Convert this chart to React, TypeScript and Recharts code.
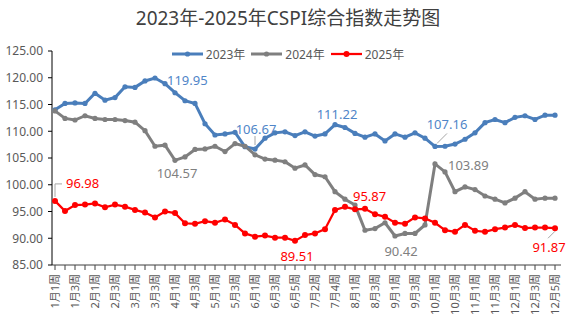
import React from 'react';
import { LineChart, Line, XAxis, YAxis, Legend, LabelList } from 'recharts';

// weeks of the year, months with 4 or 5 weeks
const categories = [
  '1月1周', '1月2周', '1月3周', '1月4周',
  '2月1周', '2月2周', '2月3周', '2月4周',
  '3月1周', '3月2周', '3月3周', '3月4周',
  '4月1周', '4月2周', '4月3周', '4月4周',
  '5月1周', '5月2周', '5月3周', '5月4周',
  '6月1周', '6月2周', '6月3周', '6月4周', '6月5周',
  '7月1周', '7月2周', '7月3周', '7月4周', '7月5周',
  '8月1周', '8月2周', '8月3周', '8月4周',
  '9月1周', '9月2周', '9月3周', '9月4周',
  '10月1周', '10月2周', '10月3周', '10月4周',
  '11月1周', '11月2周', '11月3周', '11月4周',
  '12月1周', '12月2周', '12月3周', '12月4周', '12月5周',
];

const cspi2023 = [
  114.0, 115.2, 115.3, 115.2, 117.1, 115.8, 116.3, 118.3, 118.2, 119.4,
  119.95, 118.9, 117.2, 115.7, 115.2, 111.4, 109.3, 109.5, 109.8, 107.1,
  106.67, 108.7, 109.7, 109.9, 109.2, 109.9, 109.1, 109.5, 111.22, 110.7,
  109.6, 108.9, 109.5, 108.2, 109.5, 108.9, 109.7, 108.7, 107.16, 107.2,
  107.6, 108.5, 109.7, 111.6, 112.2, 111.6, 112.6, 112.9, 112.2, 113.0,
  113.0,
];

const cspi2024 = [
  113.8, 112.4, 112.1, 112.9, 112.4, 112.2, 112.2, 112.0, 111.7, 110.1,
  107.2, 107.4, 104.57, 105.2, 106.6, 106.7, 107.2, 106.2, 107.7, 107.2,
  105.6, 104.8, 104.6, 104.3, 103.1, 103.7, 101.9, 101.5, 98.7, 97.3,
  96.2, 91.5, 91.8, 92.9, 90.42, 90.9, 90.9, 92.5, 103.89, 102.4,
  98.7, 99.6, 99.1, 97.9, 97.3, 96.6, 97.5, 98.7, 97.3, 97.5,
  97.5,
];

const cspi2025 = [
  96.98, 95.1, 96.2, 96.3, 96.5, 95.8, 96.3, 95.9, 95.3, 94.8,
  93.9, 95.0, 94.7, 92.8, 92.7, 93.2, 92.9, 93.5, 92.5, 90.9,
  90.3, 90.5, 90.1, 90.1, 89.51, 90.6, 90.9, 91.7, 95.3, 95.87,
  95.4, 95.5, 94.5, 94.0, 92.9, 92.7, 93.9, 93.7, 92.9, 91.5,
  91.2, 92.5, 91.4, 91.2, 91.7, 92.0, 92.5, 91.9, 92.0, 92.0,
  91.87,
];

const yTicks = [85, 90, 95, 100, 105, 110, 115, 120, 125];

const data = categories.map((week, i) => ({
  week,
  y2023: cspi2023[i],
  y2024: cspi2024[i],
  y2025: cspi2025[i],
}));

type Note = {
  index: number;
  dx: number;
  dy: number;
  anchor: 'start' | 'middle' | 'end';
  leader?: number[][];
};

const series = [
  {
    key: 'y2023', name: '2023年', color: '#4A7EBB', labelColor: '#4F85C8', width: 3, r: 2.6,
    notes: [
      { index: 10, dx: 12, dy: 2, anchor: 'start' },
      { index: 20, dx: 1, dy: -20, anchor: 'middle', leader: [[0, -4], [0, -13]] },
      { index: 28, dx: 2, dy: -11, anchor: 'middle' },
      { index: 38, dx: 12, dy: -22, anchor: 'middle', leader: [[2, -3], [12, -13]] },
    ] as Note[],
  },
  {
    key: 'y2024', name: '2024年', color: '#7F7F7F', labelColor: '#808080', width: 3, r: 2.6,
    notes: [
      { index: 12, dx: 2, dy: 13, anchor: 'middle' },
      { index: 38, dx: 13, dy: 1, anchor: 'start' },
      { index: 34, dx: 6, dy: 15, anchor: 'middle' },
    ] as Note[],
  },
  {
    key: 'y2025', name: '2025年', color: '#FF0000', labelColor: '#FF0000', width: 2.25, r: 3,
    notes: [
      { index: 0, dx: 11, dy: -18, anchor: 'start', leader: [[0, -4], [0, -17], [7, -17]] },
      { index: 24, dx: 2, dy: 15, anchor: 'middle' },
      { index: 29, dx: 8, dy: -11, anchor: 'start' },
      { index: 50, dx: -6, dy: 19, anchor: 'middle', leader: [[0, 3], [-7, 10]] },
    ] as Note[],
  },
];

const font = "'Noto Sans', 'Noto Sans CJK SC', sans-serif";

const WeekTick = (props: any) => {
  const { x, y, payload, index } = props;
  if (index % 2 !== 0) return null;
  return (
    <text
      x={x}
      y={y}
      transform={`rotate(-90, ${x}, ${y})`}
      textAnchor="end"
      dy="0.35em"
      fontSize={11}
      fill="#595959"
      fontFamily={font}
    >
      {payload.value}
    </text>
  );
};

const renderNote = (notes: Note[], color: string) => (p: any) => {
  const note = notes.find((n) => n.index === p.index);
  if (!note || p.x == null || p.y == null) return null;
  const { x, y } = p;
  return (
    <g key={`note-${p.index}`}>
      {note.leader && (
        <polyline
          points={note.leader.map(([lx, ly]) => `${x + lx},${y + ly}`).join(' ')}
          fill="none"
          stroke="#A6A6A6"
          strokeWidth={1}
        />
      )}
      <text
        x={x + note.dx}
        y={y + note.dy}
        textAnchor={note.anchor}
        dominantBaseline="central"
        fontSize={13}
        fill={color}
        fontFamily={font}
      >
        {Number(p.value).toFixed(2)}
      </text>
    </g>
  );
};

const LegendContent = () => (
  <div style={{ display: 'flex', justifyContent: 'center', fontFamily: font, fontSize: 12, color: '#595959' }}>
    {series.map((s) => (
      <span key={s.key} style={{ display: 'flex', alignItems: 'center', margin: '0 3px' }}>
        <svg width={31} height={10}>
          <line x1={0} y1={5} x2={31} y2={5} stroke={s.color} strokeWidth={s.width} />
          <circle cx={15.5} cy={5} r={s.r} fill={s.color} />
        </svg>
        <span style={{ marginLeft: 3 }}>{s.name}</span>
      </span>
    ))}
  </div>
);

export default function App() {
  return (
    <div style={{ position: 'relative', width: 576, height: 332, background: '#fff' }}>
      <style>{'body{margin:0}'}</style>
      <div
        style={{
          position: 'absolute', top: 5, left: 0, width: 576, textAlign: 'center',
          fontFamily: font, fontSize: 19, color: '#404040', lineHeight: '26px',
        }}
      >
        2023年-2025年CSPI综合指数走势图
      </div>
      <LineChart width={576} height={332} data={data} margin={{ top: 51, right: 15, bottom: 0, left: 0 }}>
        <XAxis
          dataKey="week"
          interval={0}
          tick={<WeekTick />}
          height={67}
          tickSize={5}
          tickMargin={4}
          padding={{ left: 3, right: 6 }}
          axisLine={{ stroke: '#404040' }}
          tickLine={{ stroke: '#404040' }}
        />
        <YAxis
          domain={[85, 125]}
          ticks={yTicks}
          interval={0}
          width={52}
          tickSize={4}
          tickMargin={5}
          tickFormatter={(v: number) => v.toFixed(2)}
          tick={{ fontSize: 12, fill: '#595959', fontFamily: font }}
          axisLine={{ stroke: '#000' }}
          tickLine={{ stroke: '#000' }}
        />
        <Legend
          verticalAlign="middle"
          align="center"
          content={<LegendContent />}
          wrapperStyle={{ top: 45, left: 0, width: 576 }}
        />
        {series.map((s) => (
          <Line
            key={s.key}
            type="linear"
            dataKey={s.key}
            name={s.name}
            stroke={s.color}
            strokeWidth={s.width}
            dot={{ r: s.r, fill: s.color, stroke: s.color, strokeWidth: 0 }}
            activeDot={false}
            isAnimationActive={false}
          >
            <LabelList dataKey={s.key} content={renderNote(s.notes, s.labelColor)} />
          </Line>
        ))}
      </LineChart>
    </div>
  );
}
